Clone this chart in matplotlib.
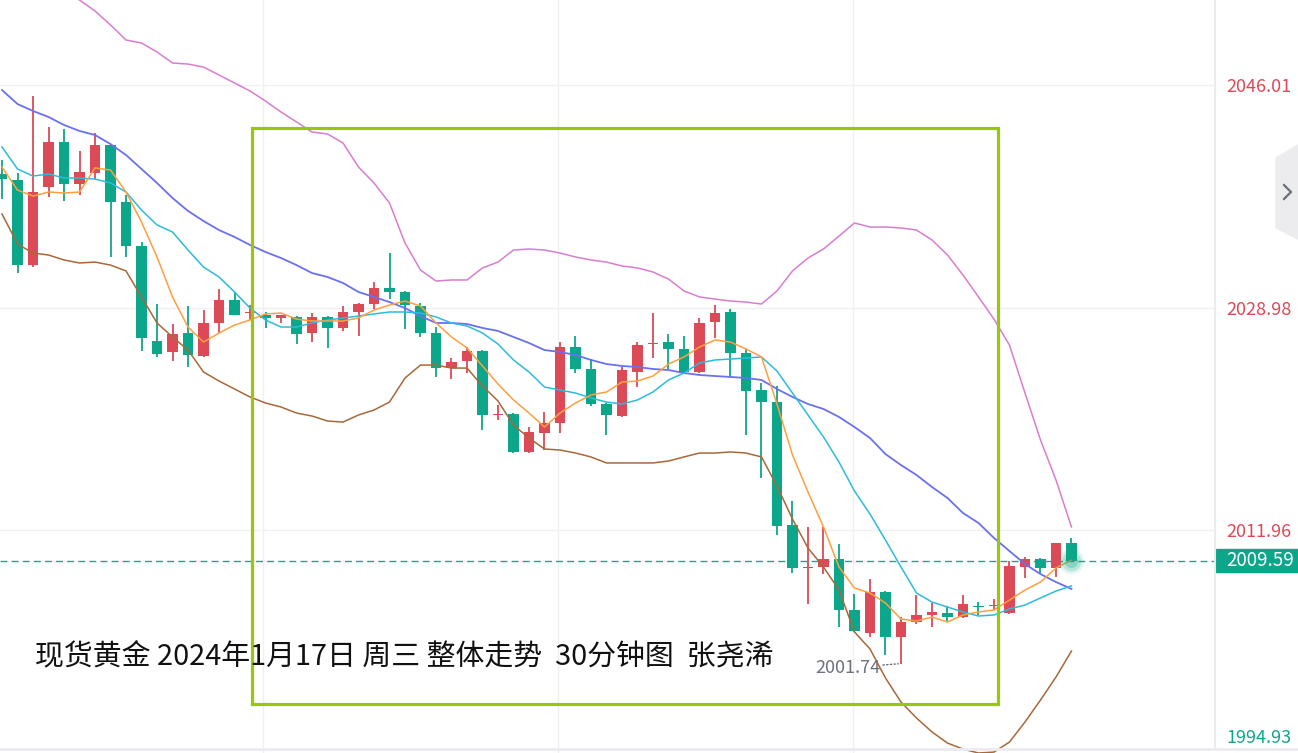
import numpy as np
import matplotlib.pyplot as plt
from matplotlib.patches import Rectangle, Polygon
from matplotlib.lines import Line2D
import matplotlib.transforms as mtransforms

plt.rcParams['font.family'] = ['Noto Sans CJK SC', 'DejaVu Sans']

# 30-minute candles, spot gold
opens = [2039.20, 2038.74, 2032.23, 2038.20, 2041.65, 2038.43, 2039.27, 2041.42, 2037.05, 2033.69,
         2026.42, 2025.58, 2027.03, 2025.27, 2027.80, 2029.56, 2028.56, 2028.41, 2028.18, 2028.26,
         2027.03, 2028.26, 2027.42, 2028.64, 2029.25, 2030.48, 2030.17, 2029.10, 2027.03, 2024.35,
         2024.89, 2025.65, 2020.76, 2020.83, 2017.93, 2019.38, 2020.15, 2025.96, 2024.28, 2021.60,
         2020.68, 2024.05, 2026.19, 2026.34, 2025.81, 2024.05, 2027.87, 2028.64, 2025.50, 2022.67,
         2021.75, 2012.34, 2009.05, 2009.13, 2009.74, 2005.84, 2004.08, 2007.22, 2003.77, 2004.92,
         2005.46, 2005.61, 2005.30, 2006.15, 2006.15, 2005.61, 2009.13, 2009.74, 2009.05, 2010.97]
highs = [2040.27, 2039.27, 2045.17, 2042.79, 2042.64, 2040.96, 2042.33, 2041.50, 2037.59, 2033.99,
         2029.25, 2027.72, 2029.10, 2028.79, 2030.40, 2030.17, 2029.17, 2028.64, 2028.41, 2028.30,
         2028.56, 2028.30, 2029.10, 2029.30, 2030.93, 2033.15, 2030.25, 2029.33, 2027.49, 2025.12,
         2025.96, 2025.70, 2021.52, 2020.91, 2019.84, 2020.99, 2026.34, 2026.80, 2025.04, 2021.65,
         2024.43, 2026.34, 2028.56, 2026.96, 2026.80, 2028.18, 2029.17, 2028.87, 2025.81, 2023.21,
         2022.98, 2014.18, 2012.19, 2012.19, 2010.89, 2007.06, 2008.21, 2007.29, 2005.30, 2006.99,
         2006.37, 2006.15, 2006.99, 2006.45, 2006.68, 2009.59, 2009.89, 2009.80, 2010.97, 2011.35]
lows = [2037.28, 2031.62, 2032.10, 2037.44, 2037.13, 2037.59, 2038.81, 2032.85, 2032.85, 2025.65,
        2025.20, 2024.89, 2024.43, 2025.20, 2027.03, 2028.41, 2028.03, 2027.42, 2027.80, 2026.19,
        2026.34, 2025.89, 2027.19, 2026.80, 2028.87, 2029.63, 2027.34, 2026.73, 2023.67, 2023.51,
        2023.97, 2019.61, 2020.38, 2017.85, 2017.85, 2018.08, 2019.38, 2023.97, 2021.45, 2019.23,
        2020.61, 2022.90, 2025.12, 2024.28, 2023.97, 2023.97, 2026.65, 2023.67, 2019.23, 2015.94,
        2011.58, 2008.67, 2006.30, 2008.59, 2004.54, 2004.16, 2003.77, 2002.40, 2001.74, 2004.77,
        2004.54, 2005.00, 2005.25, 2005.46, 2005.84, 2005.55, 2008.29, 2008.67, 2008.36, 2009.59]
closes = [2038.81, 2032.23, 2037.82, 2041.65, 2038.43, 2039.35, 2041.42, 2037.05, 2033.69, 2026.65,
          2025.43, 2026.96, 2025.35, 2027.80, 2029.56, 2028.41, 2028.64, 2028.18, 2028.41, 2026.96,
          2028.26, 2027.42, 2028.64, 2029.25, 2030.48, 2030.17, 2029.17, 2027.03, 2024.35, 2024.81,
          2025.65, 2020.76, 2020.83, 2017.93, 2019.46, 2020.15, 2025.96, 2024.28, 2021.60, 2020.76,
          2024.20, 2026.11, 2026.27, 2025.81, 2024.05, 2027.80, 2028.56, 2025.50, 2022.60, 2021.75,
          2012.27, 2009.05, 2009.13, 2009.74, 2005.84, 2004.23, 2007.22, 2003.77, 2004.92, 2005.46,
          2005.69, 2005.30, 2006.30, 2006.07, 2006.22, 2009.20, 2009.74, 2009.05, 2010.97, 2009.59]

ma5 = [2039.73, 2037.97, 2037.51, 2037.82, 2037.74, 2037.82, 2039.66, 2039.50, 2037.82, 2035.52,
       2032.85, 2029.79, 2027.49, 2026.34, 2027.03, 2027.64, 2028.03, 2028.49, 2028.56, 2028.10,
       2027.95, 2027.95, 2027.95, 2028.18, 2028.79, 2029.17, 2029.48, 2029.10, 2027.80, 2026.73,
       2025.89, 2024.51, 2023.13, 2021.91, 2020.91, 2019.84, 2020.91, 2021.68, 2022.29, 2022.52,
       2023.28, 2023.36, 2023.74, 2024.66, 2025.20, 2025.96, 2026.50, 2026.34, 2025.81, 2025.20,
       2021.60, 2017.70, 2014.87, 2012.19, 2009.13, 2007.52, 2007.14, 2006.37, 2005.15, 2005.00,
       2005.30, 2004.92, 2005.46, 2005.69, 2005.84, 2006.60, 2007.37, 2007.98, 2009.05, 2009.66]
ma10 = [2041.26, 2039.58, 2039.04, 2039.20, 2038.89, 2038.89, 2038.81, 2038.51, 2037.82, 2036.44,
        2035.30, 2034.76, 2033.38, 2032.08, 2031.32, 2030.17, 2028.94, 2028.03, 2027.49, 2027.49,
        2027.80, 2028.03, 2028.18, 2028.33, 2028.49, 2028.64, 2028.64, 2028.56, 2028.26, 2027.80,
        2027.57, 2027.03, 2026.19, 2024.97, 2024.05, 2022.90, 2022.67, 2022.44, 2022.06, 2021.75,
        2021.60, 2021.91, 2022.52, 2023.44, 2023.97, 2024.74, 2024.97, 2025.04, 2025.12, 2025.20,
        2024.12, 2022.44, 2020.76, 2019.08, 2017.16, 2014.94, 2013.18, 2011.19, 2009.13, 2007.14,
        2006.45, 2006.07, 2005.69, 2005.38, 2005.46, 2005.92, 2006.22, 2006.76, 2007.29, 2007.68]
boll_mid = [2045.62, 2044.55, 2044.02, 2043.56, 2042.95, 2042.49, 2042.18, 2041.49, 2040.65, 2039.58,
            2038.51, 2037.36, 2036.37, 2035.60, 2034.91, 2034.38, 2033.77, 2033.23, 2032.77, 2032.23,
            2031.62, 2031.32, 2030.86, 2030.17, 2029.79, 2029.40, 2028.94, 2028.33, 2027.80, 2027.80,
            2027.72, 2027.42, 2027.19, 2026.73, 2026.27, 2025.73, 2025.58, 2025.35, 2024.97, 2024.66,
            2024.51, 2024.43, 2024.28, 2024.20, 2023.97, 2023.82, 2023.74, 2023.67, 2023.59, 2023.44,
            2022.75, 2022.14, 2021.60, 2021.22, 2020.61, 2019.84, 2019.00, 2017.77, 2016.93, 2016.17,
            2015.25, 2014.41, 2013.26, 2012.50, 2011.35, 2010.35, 2009.36, 2008.59, 2007.98, 2007.45]
boll_up = [2055.95, 2055.19, 2054.42, 2053.73, 2053.12, 2052.51, 2051.67, 2050.60, 2049.45, 2049.22,
           2048.53, 2047.69, 2047.61, 2047.38, 2046.77, 2046.16, 2045.55, 2044.78, 2043.94, 2043.18,
           2042.41, 2042.26, 2041.57, 2039.73, 2038.51, 2036.98, 2033.92, 2031.85, 2031.01, 2031.09,
           2031.09, 2032.01, 2032.46, 2033.38, 2033.46, 2033.38, 2033.15, 2032.85, 2032.62, 2032.46,
           2032.16, 2032.01, 2031.70, 2031.16, 2030.25, 2029.79, 2029.63, 2029.48, 2029.40, 2029.25,
           2030.25, 2031.78, 2032.77, 2033.46, 2034.45, 2035.45, 2035.14, 2035.14, 2035.07, 2034.91,
           2034.15, 2033.00, 2031.47, 2029.79, 2028.10, 2026.11, 2022.44, 2018.85, 2015.79, 2012.19]
boll_low = [2036.14, 2033.84, 2033.15, 2033.00, 2032.62, 2032.39, 2032.46, 2032.23, 2031.78, 2029.79,
            2027.80, 2026.73, 2025.73, 2024.05, 2023.36, 2022.75, 2022.14, 2021.68, 2021.37, 2020.91,
            2020.68, 2020.30, 2020.22, 2020.76, 2021.14, 2021.75, 2023.59, 2024.58, 2024.58, 2024.35,
            2024.35, 2022.98, 2021.83, 2019.99, 2019.00, 2018.16, 2018.08, 2017.85, 2017.55, 2017.09,
            2017.09, 2017.09, 2017.09, 2017.24, 2017.55, 2017.85, 2017.85, 2017.93, 2017.85, 2017.55,
            2015.33, 2012.80, 2010.58, 2009.13, 2007.37, 2004.16, 2002.86, 2000.64, 1998.80, 1997.58,
            1996.51, 1995.66, 1995.20, 1994.90, 1994.97, 1995.74, 1997.27, 1998.95, 2000.71, 2002.70]

y_ticks = [2046.01, 2028.98, 2011.96]
y_bottom_label = "1994.93"
last_price = 2009.59
low_price = 2001.74
low_idx = 58
title = "现货黄金 2024年1月17日 周三 整体走势  30分钟图  张尧浠"

RED = "#dc4a57"
GREEN = "#0ca68a"

W, H = 1298, 753
fig = plt.figure(figsize=(W / 100, H / 100), dpi=100)
ax = fig.add_axes([0, 0, 1215 / W, 1])


def px(x, y):
    return (x / W, 1 - y / H)


o = np.array(opens)
h = np.array(highs)
l = np.array(lows)
c = np.array(closes)
x = np.arange(len(o))
up = c >= o
cols = np.where(up, RED, GREEN)

# candles
ax.vlines(x, l, h, colors=cols, lw=1.3, zorder=2)
body_h = np.maximum(np.abs(c - o), 0.1)
ax.bar(x, body_h, bottom=np.minimum(o, c), width=0.68, color=cols, zorder=2)

# moving averages / bollinger
ax.plot(x, boll_up, color="#d97dcf", lw=1.1, zorder=3)
ax.plot(x, boll_low, color="#a8683a", lw=1.1, zorder=3)
ax.plot(x, boll_mid, color="#6a70f0", lw=1.3, zorder=3)
ax.plot(x, ma10, color="#2cbbdd", lw=1.1, zorder=3)
ax.plot(x, ma5, color="#ff9f3f", lw=1.1, zorder=3)

# last price
ax.axhline(last_price, color="#14a88c", lw=1.0, ls=(0, (5, 3)), zorder=1)
for s, a in [(320, 0.12), (200, 0.18), (90, 0.28)]:
    ax.scatter([x[-1]], [last_price], s=s, color=GREEN, alpha=a, lw=0, zorder=4)

ax.annotate("2001.74", xy=(low_idx, low_price), xytext=(-15, -3), textcoords="offset points",
            ha="right", va="center", fontsize=13, color="#6e717d",
            arrowprops=dict(arrowstyle="-", linestyle=":", color="#6e717d", lw=1,
                            shrinkA=0, shrinkB=2))

# highlight box
ax.add_patch(Rectangle((16.13, 1998.65), 64.26 - 16.13, 2042.72 - 1998.65,
                       fill=False, ec="#99c70f", lw=2.3, zorder=5))

ax.set_xlim(-0.13, 78.26)
ax.set_ylim(1994.90, 2052.51)
ax.set_xticks([16.84, 35.87, 54.9])
ax.set_xticklabels([])
ax.set_yticks(y_ticks)
ax.set_yticklabels([f"{v:.2f}" for v in y_ticks])
ax.yaxis.tick_right()
ax.tick_params(axis="both", length=0)
ax.tick_params(axis="y", pad=8, labelsize=13, labelcolor=RED)
ax.grid(True, color="#f0f0f4", lw=1, zorder=0)
ax.set_axisbelow(True)
for sp in ax.spines.values():
    sp.set_visible(False)

# right price scale
blend = mtransforms.blended_transform_factory(ax.transAxes, ax.transData)
ax.add_patch(Rectangle((1216 / 1215, last_price - 0.88), 82 / 1215, 1.76,
                       transform=blend, color=GREEN, clip_on=False, zorder=6))
ax.text(1226 / 1215, last_price, f"{last_price:.2f}", transform=blend, color="white",
        fontsize=13.5, va="center", ha="left", zorder=7, clip_on=False)
ax.text(1226 / 1215, 0.02, y_bottom_label, transform=ax.transAxes, color=GREEN,
        fontsize=13, va="center", ha="left", clip_on=False)

fig.add_artist(Line2D([1215 / W, 1215 / W], [px(0, 748)[1], 1], color="#ebebf0", lw=1.5))
fig.add_artist(Line2D([0, 1], [px(0, 749)[1]] * 2, color="#ebebf0", lw=2))
fig.add_artist(Polygon([px(1276, 158), px(1298, 145), px(1298, 239), px(1276, 228)],
                       closed=True, color="#ececef", transform=fig.transFigure))
fig.add_artist(Line2D([px(1284, 0)[0], px(1291, 0)[0], px(1284, 0)[0]],
                      [px(0, 185)[1], px(0, 192)[1], px(0, 199)[1]], color="#6b6f7c", lw=1.6))

fig.text(px(35, 0)[0], px(0, 657)[1], title, fontsize=20.8, va="center", ha="left", color="#111111")

fig.savefig("out.png", dpi=100, facecolor="white")
